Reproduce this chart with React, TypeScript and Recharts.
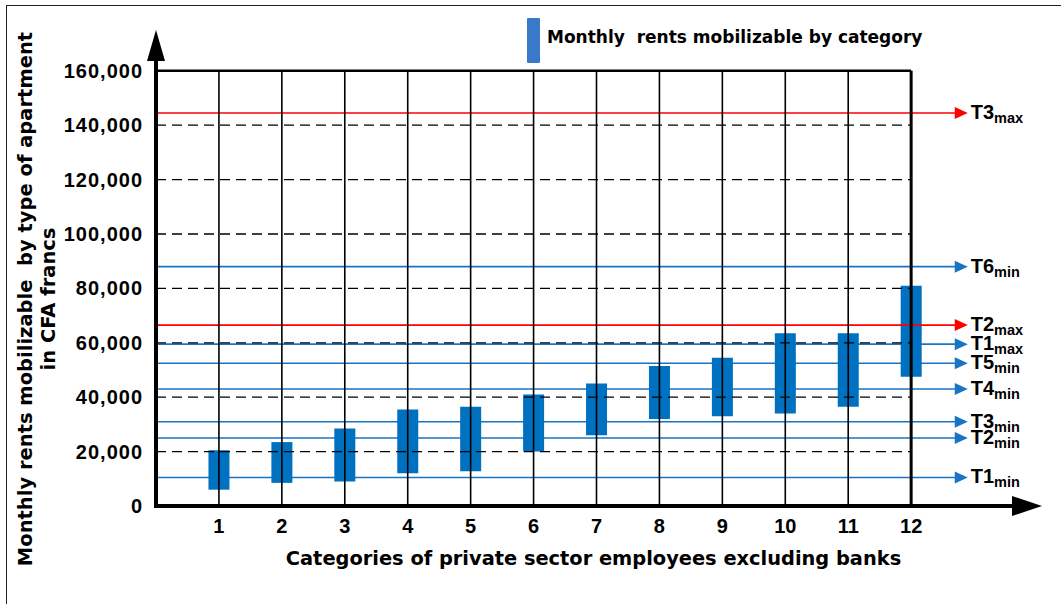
import React from "react";
import {
  ComposedChart,
  Bar,
  XAxis,
  YAxis,
  ReferenceLine,
  Legend,
} from "recharts";

// categories of private sector employees (excluding banks)
const categories = [1, 2, 3, 4, 5, 6, 7, 8, 9, 10, 11, 12];

// monthly rent range mobilizable per category (CFA francs)
const rentLow = [6000, 8500, 9000, 12000, 12800, 20000, 26000, 32000, 33000, 34000, 36500, 47500];
const rentHigh = [20500, 23500, 28500, 35500, 36500, 41000, 45000, 51500, 54500, 63500, 63500, 81000];

const yTicks = [0, 20000, 40000, 60000, 80000, 100000, 120000, 140000, 160000];

// apartment-type thresholds
const thresholdType = ["T3", "T6", "T2", "T1", "T5", "T4", "T3", "T2", "T1"];
const thresholdBound = ["max", "min", "max", "max", "min", "min", "min", "min", "min"];
const thresholdValue = [144500, 88000, 66500, 59500, 52500, 43000, 31000, 25000, 10500];

const FONT = "'Liberation Sans', Arial, sans-serif";
const WIDE = "'DejaVu Sans', Verdana, sans-serif";
const BAR_BLUE = "#0070C0";
const LINE_BLUE = "#1874C4";
const RED = "#FF0000";
const RED_LINES = ["T3max", "T2max"];
const X_END = 12.9;

const data = categories.map((c, i) => ({ cat: c, range: [rentLow[i], rentHigh[i]] }));

const thresholds = thresholdValue.map((v, i) => ({
  value: v,
  type: thresholdType[i],
  bound: thresholdBound[i],
  color: RED_LINES.includes(thresholdType[i] + thresholdBound[i]) ? RED : LINE_BLUE,
}));

const XTick = (props: any) => {
  const { x, y, payload } = props;
  return (
    <text x={x} y={y + 27} textAnchor="middle" fontFamily={FONT} fontWeight="bold" fontSize={20} fill="#000">
      {payload.value}
    </text>
  );
};

const YTick = (props: any) => {
  const { x, y, payload } = props;
  return (
    <text
      x={x - 13}
      y={y}
      dy={7}
      textAnchor="end"
      fontFamily={FONT}
      fontWeight="bold"
      fontSize={20}
      letterSpacing={1}
      fill="#000"
    >
      {Number(payload.value).toLocaleString("en-US")}
    </text>
  );
};

const YTitle = (props: any) => {
  const { viewBox } = props;
  const cy = viewBox.y + viewBox.height / 2 + 31;
  return (
    <g fontFamily={WIDE} fontWeight="bold" fontSize={19.5} fill="#000">
      <text x={25} y={cy} transform={`rotate(-90, 25, ${cy})`} textAnchor="middle" dominantBaseline="central">
        Monthly rents mobilizable{"\u00a0 "}by type of apartment
      </text>
      <text x={48} y={cy} transform={`rotate(-90, 48, ${cy})`} textAnchor="middle" dominantBaseline="central">
        in CFA francs
      </text>
    </g>
  );
};

const XTitle = (props: any) => {
  const { viewBox } = props;
  return (
    <text
      x={viewBox.x + viewBox.width / 2 - 3}
      y={viewBox.y + viewBox.height + 19}
      textAnchor="middle"
      fontFamily={WIDE}
      fontWeight="bold"
      fontSize={19.4}
      fill="#000"
    >
      Categories of private sector employees excluding banks
    </text>
  );
};

const renderLegend = () => (
  <div style={{ display: "flex", alignItems: "flex-start", fontFamily: WIDE }}>
    <div style={{ width: 13, height: 45, background: "#3A78C9", borderRadius: 1 }} />
    <div style={{ marginLeft: 7, marginTop: 9, fontSize: 17, fontWeight: "bold", lineHeight: "20px", whiteSpace: "pre" }}>
      Monthly  rents mobilizable by category
    </div>
  </div>
);

const arrowLine = (color: string, type: string, bound: string) => (p: any) => {
  const { x1, y1, x2 } = p;
  return (
    <g>
      <line x1={x1} y1={y1} x2={x2 - 10} y2={y1} stroke={color} strokeWidth={1.6} />
      <polygon points={`${x2},${y1} ${x2 - 13},${y1 - 6} ${x2 - 13},${y1 + 6}`} fill={color} />
      <text x={x2 + 3} y={y1} dy={6} fontFamily={FONT} fontWeight="bold" fontSize={20} fill="#000">
        {type}
        <tspan fontSize={14.5} dy={4}>{bound}</tspan>
      </text>
    </g>
  );
};

const yAxisArrow = (p: any) => {
  const { x1, y1, y2 } = p;
  return (
    <g>
      <line x1={x1} y1={y1 + 2} x2={x1} y2={y2 + 20} stroke="#000" strokeWidth={4} />
      <polygon points={`${x1},${y2} ${x1 - 9},${y2 + 31} ${x1 + 9},${y2 + 31}`} fill="#000" />
    </g>
  );
};

const xAxisArrow = (p: any) => {
  const { x1, y1, x2 } = p;
  return (
    <g>
      <line x1={x1 - 2} y1={y1} x2={x2 - 20} y2={y1} stroke="#000" strokeWidth={4} />
      <polygon points={`${x2 + 5},${y1} ${x2 - 25},${y1 - 10} ${x2 - 25},${y1 + 10}`} fill="#000" />
    </g>
  );
};

export default function App() {
  const blue = thresholds.filter((t) => t.color !== RED);
  const red = thresholds.filter((t) => t.color === RED);
  const last = categories[categories.length - 1];
  return (
    <div style={{ position: "absolute", left: 0, top: 0, width: 1061, height: 604, background: "#fff" }}>
      <div
        style={{
          position: "absolute",
          left: 6,
          top: 5,
          width: 1055,
          height: 599,
          borderTop: "1.5px solid #222",
          borderLeft: "1.5px solid #222",
        }}
      />
      <ComposedChart
        width={1061}
        height={604}
        data={data}
        margin={{ top: 30, right: 24, bottom: 58, left: 0 }}
        style={{ position: "absolute", left: 0, top: 0 }}
      >
        <XAxis
          dataKey="cat"
          type="number"
          domain={[0, 14]}
          ticks={categories}
          interval={0}
          height={40}
          axisLine={false}
          tickLine={false}
          tickSize={0}
          tickMargin={0}
          tick={XTick}
          label={(props: any) => <XTitle {...props} />}
        />
        <YAxis
          type="number"
          domain={[0, 175000]}
          ticks={yTicks}
          interval={0}
          width={156}
          axisLine={false}
          tickLine={false}
          tickSize={0}
          tickMargin={0}
          tick={YTick}
          label={(props: any) => <YTitle {...props} />}
        />
        <Legend
          layout="horizontal"
          verticalAlign="middle"
          align="center"
          content={renderLegend}
          wrapperStyle={{ left: 527, top: 18, width: 440 }}
        />

        {blue.map((t) => (
          <ReferenceLine
            key={t.type + t.bound}
            segment={[{ x: 0, y: t.value }, { x: X_END, y: t.value }]}
            ifOverflow="visible"
            zIndex={200}
            shape={arrowLine(t.color, t.type, t.bound)}
          />
        ))}

        <Bar dataKey="range" fill={BAR_BLUE} barSize={21} isAnimationActive={false} />

        {yTicks.slice(1, -1).map((v) => (
          <ReferenceLine
            key={"g" + v}
            segment={[{ x: 0, y: v }, { x: last, y: v }]}
            stroke="#000"
            strokeWidth={1.3}
            strokeDasharray="10 6"
            ifOverflow="visible"
          />
        ))}
        <ReferenceLine
          segment={[{ x: 0, y: yTicks[yTicks.length - 1] }, { x: last, y: yTicks[yTicks.length - 1] }]}
          stroke="#000"
          strokeWidth={2.5}
          ifOverflow="visible"
        />

        {red.map((t) => (
          <ReferenceLine
            key={t.type + t.bound}
            segment={[{ x: 0, y: t.value }, { x: X_END, y: t.value }]}
            ifOverflow="visible"
            shape={arrowLine(t.color, t.type, t.bound)}
          />
        ))}

        {categories.map((c) => (
          <ReferenceLine
            key={"v" + c}
            segment={[{ x: c, y: 0 }, { x: c, y: yTicks[yTicks.length - 1] }]}
            stroke="#000"
            strokeWidth={c === last ? 3 : 1.6}
            ifOverflow="visible"
          />
        ))}

        <ReferenceLine segment={[{ x: 0, y: 0 }, { x: 0, y: 175000 }]} ifOverflow="visible" shape={yAxisArrow} />
        <ReferenceLine segment={[{ x: 0, y: 0 }, { x: 14, y: 0 }]} ifOverflow="visible" shape={xAxisArrow} />
      </ComposedChart>
    </div>
  );
}
